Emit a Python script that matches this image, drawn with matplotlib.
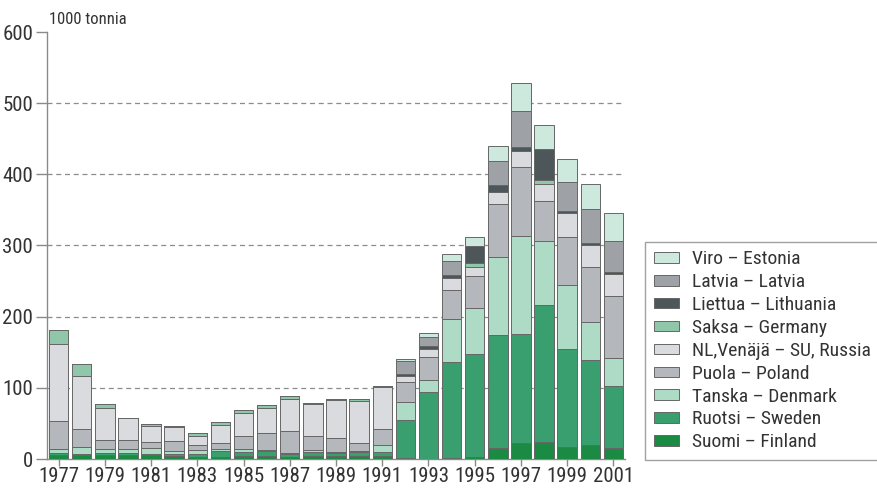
"""
Stacked bars: imports by country, 1977-2001 (1000 tonnia).
"""

import matplotlib

matplotlib.use("Agg")
import matplotlib.pyplot as plt
from matplotlib import font_manager

# the original uses a condensed sans; take one if it is installed
narrow = None
for f in font_manager.fontManager.ttflist:
    if f.name in ("Liberation Sans Narrow", "Roboto Condensed", "Open Sans Condensed"):
        narrow = (f.name, "normal")
        break
    if f.name == "DejaVu Sans" and "Condensed" in f.fname and "Bold" not in f.fname \
            and "Oblique" not in f.fname:
        narrow = ("DejaVu Sans", "condensed")

if narrow:
    plt.rcParams["font.family"] = [narrow[0], "DejaVu Sans"]
    plt.rcParams["font.stretch"] = narrow[1]
    tick_size, legend_size, unit_size = 15, 14, 12
else:
    plt.rcParams["font.family"] = ["Liberation Sans", "DejaVu Sans"]
    tick_size, legend_size, unit_size = 12.5, 12.5, 10.5

years = list(range(1977, 2002))

suomi = [6, 5, 6, 5, 5, 4, 3, 3, 4, 4, 3, 4, 4, 4, 4,
         1, 0.5, 1, 3, 16, 23, 24, 17, 19, 15]
ruotsi = [2, 2, 3, 3, 2, 3, 4, 8, 6, 7, 4, 6, 4, 6, 6,
          54, 93, 135, 144, 158, 152, 192, 138, 120, 87]
tanska = [6, 10, 5, 6, 8, 4, 5, 3, 4, 2, 2, 2, 2, 1, 9,
          25, 18, 61, 65, 110, 138, 91, 90, 53, 40]
puola = [39, 25, 13, 12, 9, 14, 7, 9, 18, 23, 31, 21, 19, 12, 23,
         28, 32, 41, 45, 74, 97, 56, 67, 78, 87]
nl_venaja = [109, 75, 44, 31, 23, 20, 13, 25, 33, 35, 44, 44, 54, 59, 59,
             8, 11, 17, 13, 17, 23, 23, 33, 30, 31]
saksa = [19, 16, 6, 1, 2, 2, 5, 4, 4, 5, 4, 2, 2, 2, 1,
         0, 0, 0, 5, 0, 0, 6, 0, 0, 0]
liettua = [0] * 15 + [4, 4.5, 3, 24, 10, 6, 43, 3, 3, 3]
latvia = [0] * 15 + [18, 13, 20, 0, 34, 50, 0, 41, 48, 44]
viro = [0] * 15 + [3, 5.5, 10, 13, 21, 39, 34, 32, 36, 38]

series = [
    ("Suomi – Finland", suomi, "#1b8a43"),
    ("Ruotsi – Sweden", ruotsi, "#3a9f6e"),
    ("Tanska – Denmark", tanska, "#aedbc6"),
    ("Puola – Poland", puola, "#b4b7bb"),
    ("NL,Venäjä – SU, Russia", nl_venaja, "#d9dbde"),
    ("Saksa – Germany", saksa, "#90c7aa"),
    ("Liettua – Lithuania", liettua, "#4d5659"),
    ("Latvia – Latvia", latvia, "#9ea2a6"),
    ("Viro – Estonia", viro, "#cde9de"),
]

text_color = "#333333"
axis_color = "#8a8a8a"

fig = plt.figure(figsize=(8.78, 4.98), dpi=100)
ax = fig.add_axes([47 / 878, 39 / 498, 578 / 878, 427 / 498])

bottom = [0] * len(years)
handles = []
for label, values, color in series:
    bars = ax.bar(years, values, width=0.84, bottom=bottom, color=color,
                  edgecolor="#666666", linewidth=0.7, label=label, zorder=3)
    handles.append(bars)
    bottom = [b + v for b, v in zip(bottom, values)]

ax.set_xlim(1976.5, 2001.5)
ax.set_ylim(0, 600)
ax.set_yticks(range(0, 601, 100))
ax.set_xticks(years[::2])

# dashed reference lines
for y in range(100, 600, 100):
    ax.axhline(y, color="#8c8c8c", linewidth=0.9, linestyle=(0, (4, 3)), zorder=1)

for side in ["top", "right"]:
    ax.spines[side].set_visible(False)
for side in ["left", "bottom"]:
    ax.spines[side].set_color(axis_color)
    ax.spines[side].set_linewidth(1.0)

ax.tick_params(axis="y", direction="out", length=8, width=1.0, color=axis_color,
               labelsize=tick_size, labelcolor=text_color, pad=2)
ax.tick_params(axis="x", direction="out", length=5, width=1.0, color=axis_color,
               labelsize=tick_size, labelcolor=text_color, pad=1)

ax.text(0.003, 1.012, "1000 tonnia", transform=ax.transAxes, ha="left",
        va="bottom", fontsize=unit_size, color=text_color)

leg = fig.legend(
    handles[::-1],
    [s[0] for s in series][::-1],
    loc="lower left",
    bbox_to_anchor=(645 / 878, 38 / 498),
    borderaxespad=0,
    fontsize=legend_size,
    frameon=True,
    fancybox=False,
    handlelength=1.3,
    handleheight=0.45,
    handletextpad=0.65,
    labelspacing=0.25,
    borderpad=0.45,
)
leg.get_frame().set_edgecolor(axis_color)
leg.get_frame().set_linewidth(1.0)
for t in leg.get_texts():
    t.set_color(text_color)

fig.savefig("out.png", dpi=100)
